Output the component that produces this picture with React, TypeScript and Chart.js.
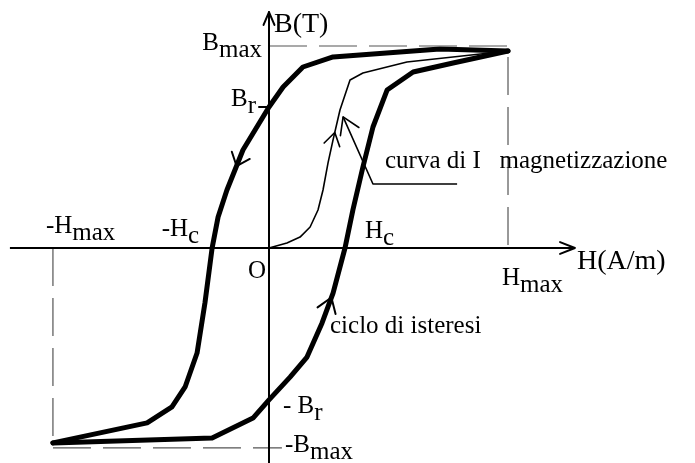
import { useEffect, useRef } from "react";
import { Chart, registerables } from "chart.js";

Chart.register(...registerables);

// Field H in units of H_max, induction B in units of B_max.
const H_NEG_MAX = -0.904;
const B_NEG_MAX = -0.99;
const H_C = 0.318;
const H_C_NEG = -0.238;
const B_R = 0.698;
const B_R_NEG = -0.752;

// Axis extents (with the arrow tips)
const H_AXIS = [-1.084, 1.28];
const B_AXIS = [-1.07, 1.168];

// Descending branch of the loop, from +H_max to -H_max
const descH = [1.0, 0.715, 0.268, 0.142, 0.059, 0, -0.109, -0.176, -0.213, H_C_NEG, -0.268, -0.301, -0.351, -0.406, -0.51, H_NEG_MAX];
const descB = [0.975, 0.985, 0.946, 0.896, 0.797, B_R, 0.485, 0.287, 0.153, 0, -0.272, -0.52, -0.688, -0.787, -0.866, -0.965];

// Ascending branch of the loop, from -H_max to +H_max
const ascH = [H_NEG_MAX, -0.238, -0.067, 0, 0.088, 0.159, 0.222, 0.268, H_C, 0.351, 0.393, 0.435, 0.494, 0.603, 0.77, 1.0];
const ascB = [-0.965, -0.941, -0.842, B_R_NEG, -0.639, -0.54, -0.371, -0.223, 0, 0.188, 0.401, 0.599, 0.782, 0.871, 0.916, 0.975];

// First magnetization curve
const firstH = [0, 0.075, 0.13, 0.172, 0.205, 0.226, 0.247, 0.268, 0.297, 0.339, 0.393, 0.577, 1.0];
const firstB = [0, 0.025, 0.054, 0.104, 0.188, 0.287, 0.421, 0.535, 0.683, 0.832, 0.866, 0.921, 0.975];

// Leader line pointing at the first magnetization curve
const leaderH = [0.787, 0.435, 0.31];
const leaderB = [0.317, 0.317, 0.649];

const pts = (xs: number[], ys: number[]) => xs.map((x, i) => ({ x, y: ys[i] }));

const FONT = "25px 'Liberation Serif', 'Times New Roman', serif";
const AXIS_FONT = "28px 'Liberation Serif', 'Times New Roman', serif";

function arrowHead(ctx: CanvasRenderingContext2D, tx: number, ty: number, dirAngle: number, len: number, half: number, width: number) {
  const back = dirAngle + Math.PI;
  ctx.save();
  ctx.strokeStyle = "#000";
  ctx.lineWidth = width;
  ctx.lineCap = "round";
  ctx.lineJoin = "round";
  ctx.beginPath();
  ctx.moveTo(tx + len * Math.cos(back + half), ty + len * Math.sin(back + half));
  ctx.lineTo(tx, ty);
  ctx.lineTo(tx + len * Math.cos(back - half), ty + len * Math.sin(back - half));
  ctx.stroke();
  ctx.restore();
}

function subText(ctx: CanvasRenderingContext2D, main: string, sub: string, x: number, y: number, align: "left" | "right" = "left") {
  const wm = ctx.measureText(main).width;
  const ws = ctx.measureText(sub).width;
  const left = align === "left" ? x : x - wm - ws;
  ctx.fillText(main, left, y);
  ctx.fillText(sub, left + wm, y + 7);
}

const decorations = {
  id: "hysteresisDecorations",
  afterDatasetsDraw(chart: any) {
    const { ctx } = chart;
    const sx = chart.scales.x;
    const sy = chart.scales.y;
    const px = (v: number) => sx.getPixelForValue(v);
    const py = (v: number) => sy.getPixelForValue(v);

    // axis arrows
    arrowHead(ctx, px(H_AXIS[1]), py(0), 0, 16, 0.38, 2);
    arrowHead(ctx, px(0), py(B_AXIS[1]), -Math.PI / 2, 14, 0.4, 2);

    // direction arrows along the curves
    const along = (xs: number[], ys: number[], i: number, t: number) => {
      const x0 = px(xs[i]), y0 = py(ys[i]);
      const x1 = px(xs[i + 1]), y1 = py(ys[i + 1]);
      return { x: x0 + (x1 - x0) * t, y: y0 + (y1 - y0) * t, a: Math.atan2(y1 - y0, x1 - x0) };
    };
    const a1 = along(descH, descB, 6, 0.4);
    arrowHead(ctx, a1.x, a1.y, a1.a, 15, 0.7, 2);
    const a2 = along(ascH, ascB, 6, 0.85);
    arrowHead(ctx, a2.x, a2.y, a2.a, 17, 0.6, 2);
    const a3 = along(firstH, firstB, 7, 0.25);
    arrowHead(ctx, a3.x, a3.y, a3.a, 15, 0.56, 1.6);
    const a4 = along(leaderH, leaderB, 1, 1);
    arrowHead(ctx, a4.x, a4.y, a4.a, 19, 0.56, 1.6);

    // text
    ctx.save();
    ctx.fillStyle = "#000";
    ctx.textBaseline = "alphabetic";
    const ax = px(0);
    const ay = py(0);
    ctx.font = AXIS_FONT;
    ctx.fillText("B(T)", ax + 5, py(B_AXIS[1]) + 20);
    ctx.fillText("H(A/m)", px(H_AXIS[1]) + 2, ay + 21);
    ctx.font = FONT;
    subText(ctx, "B", "max", ax - 7, py(1) + 4, "right");
    subText(ctx, "B", "r", ax - 13, py(B_R) - 1, "right");
    subText(ctx, "-H", "max", px(H_NEG_MAX) - 7, ay - 15);
    subText(ctx, "-H", "c", px(H_C_NEG) - 13, ay - 12, "right");
    ctx.fillText("O", ax - 21, ay + 30);
    subText(ctx, "H", "c", px(H_C) + 20, ay - 10);
    subText(ctx, "H", "max", px(1) - 6, ay + 37);
    ctx.fillText("curva di I   magnetizzazione", px(leaderH[1]) + 12, py(leaderB[1]) - 16);
    ctx.fillText("ciclo di isteresi", px(H_C) - 15, ay + 85);
    subText(ctx, "- B", "r", ax + 14, py(B_R_NEG) + 13);
    subText(ctx, "-B", "max", ax + 16, py(B_NEG_MAX) + 4);
    ctx.restore();
  },
};

export default function App() {
  const ref = useRef<HTMLCanvasElement | null>(null);

  useEffect(() => {
    document.body.style.margin = "0";
    const canvas = ref.current;
    if (!canvas) return;

    const line = (data: any[], width: number, extra: any = {}) => ({
      data,
      showLine: true,
      borderColor: "#000",
      borderWidth: width,
      pointRadius: 0,
      fill: false,
      tension: 0,
      borderJoinStyle: "round",
      borderCapStyle: "butt",
      ...extra,
    });
    const dashed = { borderColor: "#555", borderDash: [38, 12] };

    const chart = new Chart(canvas, {
      type: "scatter",
      data: {
        datasets: [
          line([{ x: H_AXIS[0], y: 0 }, { x: H_AXIS[1], y: 0 }], 2),
          line([{ x: 0, y: B_AXIS[1] }, { x: 0, y: B_AXIS[0] }], 2),
          line([{ x: 0, y: 1 }, { x: 1, y: 1 }, { x: 1, y: 0 }], 1.2, dashed),
          line([{ x: H_NEG_MAX, y: 0 }, { x: H_NEG_MAX, y: B_NEG_MAX }, { x: 0.054, y: B_NEG_MAX }], 1.2, dashed),
          line([{ x: -0.045, y: B_R }, { x: 0, y: B_R }], 2),
          line(pts(descH, descB), 5, { borderCapStyle: "round" }),
          line(pts(ascH, ascB), 5, { borderCapStyle: "round" }),
          line(pts(firstH, firstB), 1.6),
          line(pts(leaderH, leaderB), 1.6),
        ],
      },
      options: {
        animation: false,
        responsive: false,
        devicePixelRatio: 1,
        events: [],
        layout: { padding: 0 },
        plugins: { legend: { display: false }, tooltip: { enabled: false } },
        scales: {
          x: { type: "linear", min: -1.1255, max: 1.7824, display: false },
          y: { type: "linear", min: -1.0644, max: 1.2277, display: false },
        },
      },
      plugins: [decorations],
    });
    return () => chart.destroy();
  }, []);

  return (
    <div style={{ width: 695, height: 463, background: "#fff" }}>
      <canvas ref={ref} width={695} height={463} style={{ display: "block" }} />
    </div>
  );
}
